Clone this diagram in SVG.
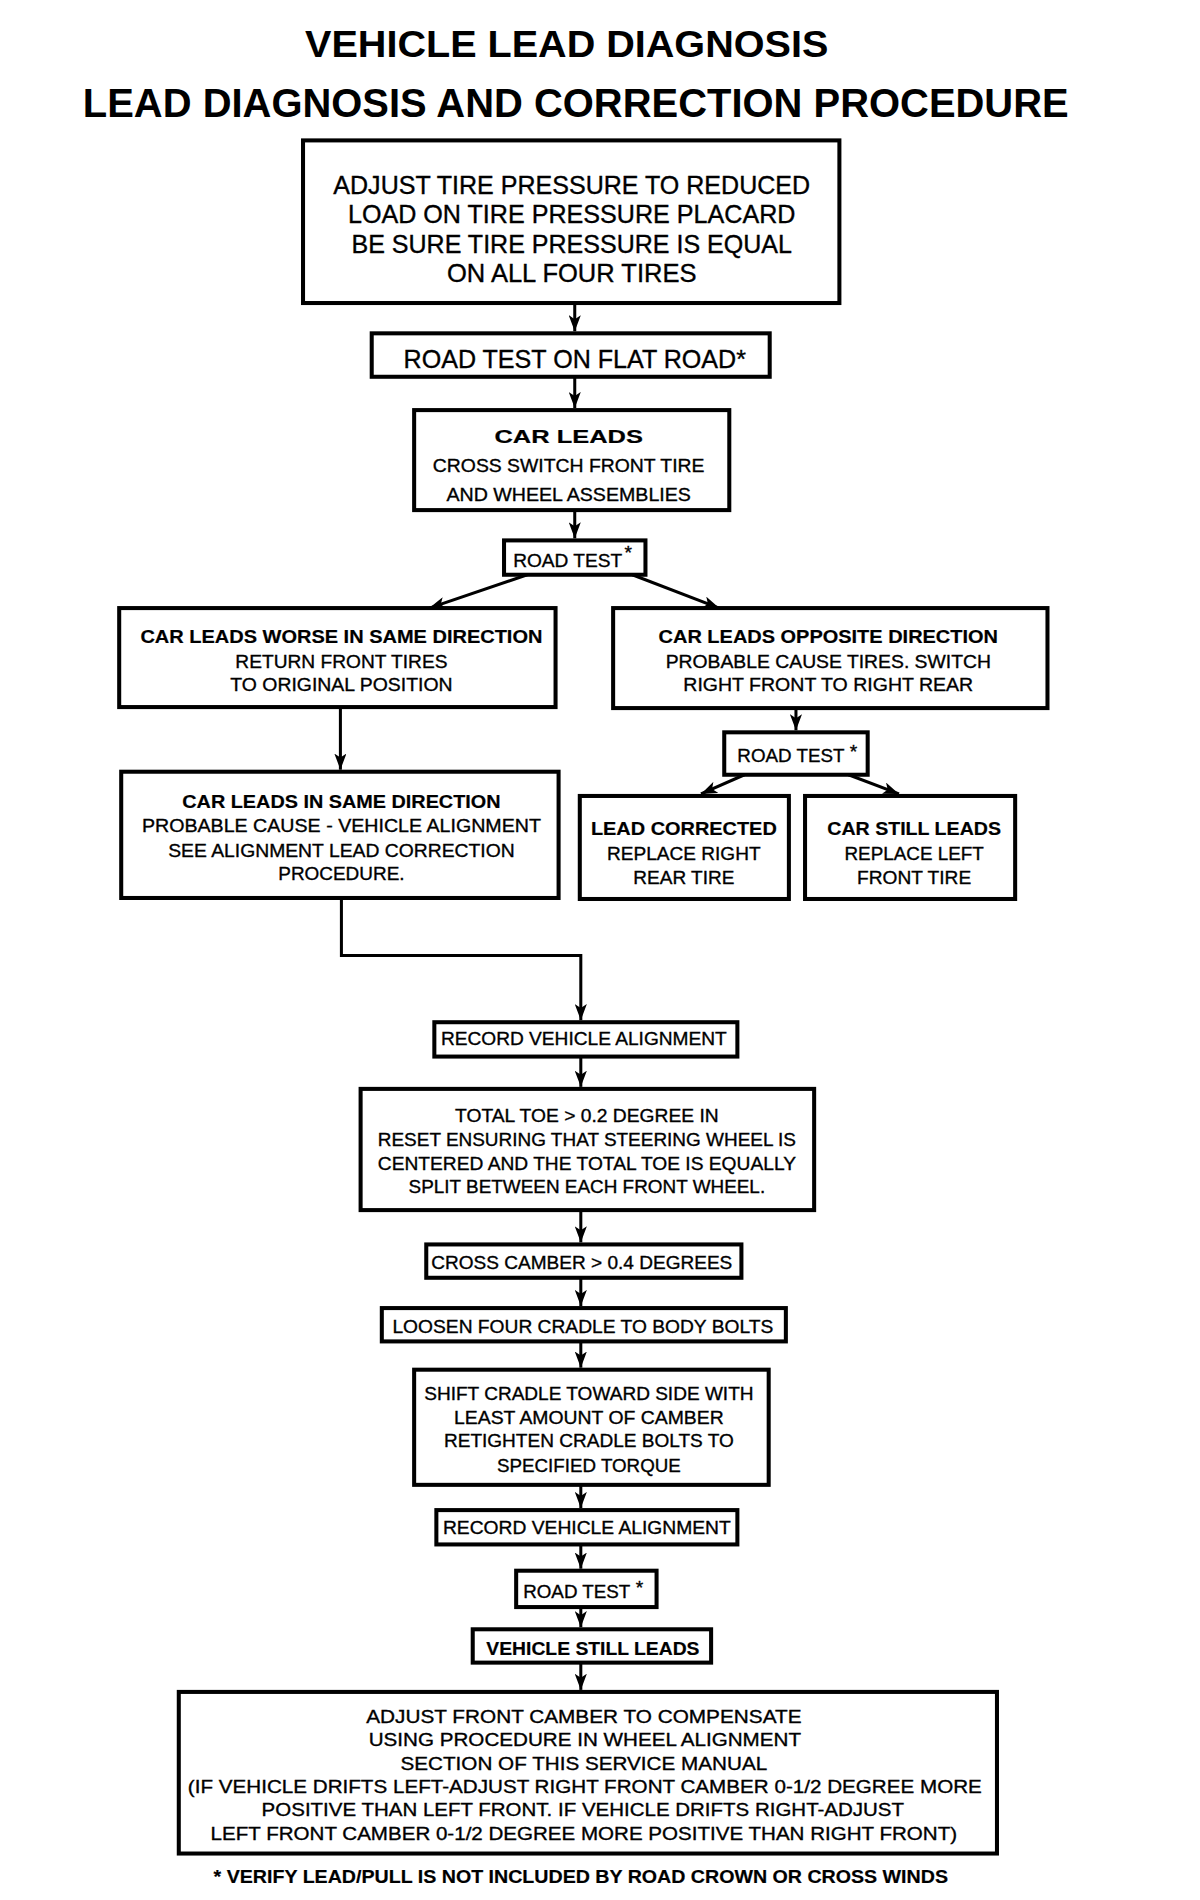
<svg xmlns="http://www.w3.org/2000/svg" width="1200" height="1900" viewBox="0 0 1200 1900">
<defs>
<style>
.box{fill:#fff;stroke:#000;stroke-width:4}
.t{font-family:"Liberation Sans",Arial,sans-serif;font-size:19px;fill:#000;text-anchor:middle;stroke:#000;stroke-width:0.35}
.b{font-weight:bold;stroke-width:0.2}
.big{font-size:25px}
.ttl{font-family:"Liberation Sans",Arial,sans-serif;font-weight:bold;fill:#000;text-anchor:middle}
.c{fill:none;stroke:#000;stroke-width:3}
</style>
<marker id="ah" viewBox="0 0 16 12" refX="16" refY="6" markerWidth="16" markerHeight="12" markerUnits="userSpaceOnUse" orient="auto">
<path d="M0,0 L16,6 L0,12 L4,6 z" fill="#000"/>
</marker>
</defs>
<rect width="1200" height="1900" fill="#fff"/>
<g id="diagram" transform="scale(1.0101)">
<text class="ttl" x="561" y="56" font-size="37" textLength="518" lengthAdjust="spacingAndGlyphs">VEHICLE LEAD DIAGNOSIS</text>
<text class="ttl" x="570" y="116" font-size="40" textLength="976" lengthAdjust="spacingAndGlyphs">LEAD DIAGNOSIS AND CORRECTION PROCEDURE</text>

<g id="connectors">
<line class="c" x1="569" y1="300" x2="569" y2="328" marker-end="url(#ah)"/>
<line class="c" x1="569" y1="373" x2="569" y2="404" marker-end="url(#ah)"/>
<line class="c" x1="569" y1="505" x2="569" y2="533" marker-end="url(#ah)"/>
<line class="c" x1="522" y1="569" x2="425" y2="602" marker-end="url(#ah)" stroke-width="4"/>
<line class="c" x1="626" y1="569" x2="712" y2="602" marker-end="url(#ah)" stroke-width="4"/>
<line class="c" x1="337" y1="700" x2="337" y2="762" marker-end="url(#ah)"/>
<line class="c" x1="788" y1="701" x2="788" y2="723" marker-end="url(#ah)"/>
<line class="c" x1="737" y1="767" x2="694" y2="786" marker-end="url(#ah)" stroke-width="4"/>
<line class="c" x1="840" y1="767" x2="890" y2="786" marker-end="url(#ah)" stroke-width="4"/>
<polyline class="c" points="338,889 338,946 575,946 575,1010" marker-end="url(#ah)"/>
<line class="c" x1="575" y1="1046" x2="575" y2="1076" marker-end="url(#ah)"/>
<line class="c" x1="575" y1="1198" x2="575" y2="1230" marker-end="url(#ah)"/>
<line class="c" x1="575" y1="1265" x2="575" y2="1293" marker-end="url(#ah)"/>
<line class="c" x1="575" y1="1328" x2="575" y2="1354" marker-end="url(#ah)"/>
<line class="c" x1="575" y1="1470" x2="575" y2="1493" marker-end="url(#ah)"/>
<line class="c" x1="575" y1="1529" x2="575" y2="1553" marker-end="url(#ah)"/>
<line class="c" x1="575" y1="1591" x2="575" y2="1611" marker-end="url(#ah)"/>
<line class="c" x1="575" y1="1646" x2="575" y2="1673" marker-end="url(#ah)"/>
</g>

<g id="n1">
<rect class="box" x="300" y="139" width="531" height="161"/>
<text class="t big" x="566" y="192" textLength="472" lengthAdjust="spacingAndGlyphs">ADJUST TIRE PRESSURE TO REDUCED</text>
<text class="t big" x="566" y="221" textLength="443" lengthAdjust="spacingAndGlyphs">LOAD ON TIRE PRESSURE PLACARD</text>
<text class="t big" x="566" y="250" textLength="436" lengthAdjust="spacingAndGlyphs">BE SURE TIRE PRESSURE IS EQUAL</text>
<text class="t big" x="566" y="279" textLength="247" lengthAdjust="spacingAndGlyphs">ON ALL FOUR TIRES</text>
</g>
<g id="n2">
<rect class="box" x="368" y="330" width="394" height="43"/>
<text class="t big" x="569" y="364" textLength="339" lengthAdjust="spacingAndGlyphs">ROAD TEST ON FLAT ROAD*</text>
</g>
<g id="n3">
<rect class="box" x="410" y="406" width="312" height="99"/>
<text class="t b" x="563" y="439" font-size="23" textLength="147" lengthAdjust="spacingAndGlyphs">CAR LEADS</text>
<text class="t" x="563" y="467" textLength="269" lengthAdjust="spacingAndGlyphs">CROSS SWITCH FRONT TIRE</text>
<text class="t" x="563" y="496" textLength="242" lengthAdjust="spacingAndGlyphs">AND WHEEL ASSEMBLIES</text>
</g>
<g id="n4">
<rect class="box" x="499" y="535" width="140" height="34"/>
<text class="t" x="562" y="561" textLength="108" lengthAdjust="spacingAndGlyphs">ROAD TEST</text>
<text class="t" x="622" y="553" font-size="13">*</text>
</g>
<g id="n5">
<rect class="box" x="118" y="602" width="432" height="98"/>
<text class="t b" x="338" y="637" textLength="398" lengthAdjust="spacingAndGlyphs">CAR LEADS WORSE IN SAME DIRECTION</text>
<text class="t" x="338" y="661" textLength="210" lengthAdjust="spacingAndGlyphs">RETURN FRONT TIRES</text>
<text class="t" x="338" y="684" textLength="220" lengthAdjust="spacingAndGlyphs">TO ORIGINAL POSITION</text>
</g>
<g id="n6">
<rect class="box" x="607" y="602" width="430" height="99"/>
<text class="t b" x="820" y="637" textLength="336" lengthAdjust="spacingAndGlyphs">CAR LEADS OPPOSITE DIRECTION</text>
<text class="t" x="820" y="661" textLength="322" lengthAdjust="spacingAndGlyphs">PROBABLE CAUSE TIRES. SWITCH</text>
<text class="t" x="820" y="684" textLength="287" lengthAdjust="spacingAndGlyphs">RIGHT FRONT TO RIGHT REAR</text>
</g>
<g id="n7">
<rect class="box" x="717" y="725" width="142" height="42"/>
<text class="t" x="783" y="754" textLength="106" lengthAdjust="spacingAndGlyphs">ROAD TEST</text>
<text class="t" x="845" y="750" font-size="14">*</text>
</g>
<g id="n8">
<rect class="box" x="574" y="788" width="207" height="102"/>
<text class="t b" x="677" y="827" textLength="184" lengthAdjust="spacingAndGlyphs">LEAD CORRECTED</text>
<text class="t" x="677" y="851" textLength="152" lengthAdjust="spacingAndGlyphs">REPLACE RIGHT</text>
<text class="t" x="677" y="875" textLength="100" lengthAdjust="spacingAndGlyphs">REAR TIRE</text>
</g>
<g id="n9">
<rect class="box" x="797" y="788" width="208" height="102"/>
<text class="t b" x="905" y="827" textLength="172" lengthAdjust="spacingAndGlyphs">CAR STILL LEADS</text>
<text class="t" x="905" y="851" textLength="138" lengthAdjust="spacingAndGlyphs">REPLACE LEFT</text>
<text class="t" x="905" y="875" textLength="113" lengthAdjust="spacingAndGlyphs">FRONT TIRE</text>
</g>
<g id="n10">
<rect class="box" x="120" y="764" width="433" height="125"/>
<text class="t b" x="338" y="800" textLength="315" lengthAdjust="spacingAndGlyphs">CAR LEADS IN SAME DIRECTION</text>
<text class="t" x="338" y="824" textLength="395" lengthAdjust="spacingAndGlyphs">PROBABLE CAUSE - VEHICLE ALIGNMENT</text>
<text class="t" x="338" y="848" textLength="343" lengthAdjust="spacingAndGlyphs">SEE ALIGNMENT LEAD CORRECTION</text>
<text class="t" x="338" y="871" textLength="125" lengthAdjust="spacingAndGlyphs">PROCEDURE.</text>
</g>
<g id="n11">
<rect class="box" x="430" y="1012" width="300" height="34"/>
<text class="t" x="578" y="1035" textLength="283" lengthAdjust="spacingAndGlyphs">RECORD VEHICLE ALIGNMENT</text>
</g>
<g id="n12">
<rect class="box" x="357" y="1078" width="449" height="120"/>
<text class="t" x="581" y="1111" textLength="261" lengthAdjust="spacingAndGlyphs">TOTAL TOE &gt; 0.2 DEGREE IN</text>
<text class="t" x="581" y="1135" textLength="414" lengthAdjust="spacingAndGlyphs">RESET ENSURING THAT STEERING WHEEL IS</text>
<text class="t" x="581" y="1158" textLength="414" lengthAdjust="spacingAndGlyphs">CENTERED AND THE TOTAL TOE IS EQUALLY</text>
<text class="t" x="581" y="1181" textLength="353" lengthAdjust="spacingAndGlyphs">SPLIT BETWEEN EACH FRONT WHEEL.</text>
</g>
<g id="n13">
<rect class="box" x="422" y="1232" width="312" height="33"/>
<text class="t" x="576" y="1256" textLength="298" lengthAdjust="spacingAndGlyphs">CROSS CAMBER &gt; 0.4 DEGREES</text>
</g>
<g id="n14">
<rect class="box" x="378" y="1295" width="400" height="33"/>
<text class="t" x="577" y="1320" textLength="377" lengthAdjust="spacingAndGlyphs">LOOSEN FOUR CRADLE TO BODY BOLTS</text>
</g>
<g id="n15">
<rect class="box" x="410" y="1356" width="351" height="114"/>
<text class="t" x="583" y="1386" textLength="326" lengthAdjust="spacingAndGlyphs">SHIFT CRADLE TOWARD SIDE WITH</text>
<text class="t" x="583" y="1410" textLength="267" lengthAdjust="spacingAndGlyphs">LEAST AMOUNT OF CAMBER</text>
<text class="t" x="583" y="1433" textLength="287" lengthAdjust="spacingAndGlyphs">RETIGHTEN CRADLE BOLTS TO</text>
<text class="t" x="583" y="1457" textLength="182" lengthAdjust="spacingAndGlyphs">SPECIFIED TORQUE</text>
</g>
<g id="n16">
<rect class="box" x="432" y="1495" width="298" height="34"/>
<text class="t" x="581" y="1519" textLength="285" lengthAdjust="spacingAndGlyphs">RECORD VEHICLE ALIGNMENT</text>
</g>
<g id="n17">
<rect class="box" x="511" y="1555" width="139" height="36"/>
<text class="t" x="571" y="1582" textLength="106" lengthAdjust="spacingAndGlyphs">ROAD TEST</text>
<text class="t" x="633" y="1578" font-size="14">*</text>
</g>
<g id="n18">
<rect class="box" x="468" y="1613" width="236" height="33"/>
<text class="t b" x="587" y="1638" textLength="211" lengthAdjust="spacingAndGlyphs">VEHICLE STILL LEADS</text>
</g>
<g id="n19">
<rect class="box" x="177" y="1675" width="810" height="160"/>
<text class="t" x="578" y="1706" textLength="431" lengthAdjust="spacingAndGlyphs">ADJUST FRONT CAMBER TO COMPENSATE</text>
<text class="t" x="579" y="1729" textLength="428" lengthAdjust="spacingAndGlyphs">USING PROCEDURE IN WHEEL ALIGNMENT</text>
<text class="t" x="578" y="1752" textLength="363" lengthAdjust="spacingAndGlyphs">SECTION OF THIS SERVICE MANUAL</text>
<text class="t" x="579" y="1775" textLength="786" lengthAdjust="spacingAndGlyphs">(IF VEHICLE DRIFTS LEFT-ADJUST RIGHT FRONT CAMBER 0-1/2 DEGREE MORE</text>
<text class="t" x="577" y="1798" textLength="636" lengthAdjust="spacingAndGlyphs">POSITIVE THAN LEFT FRONT. IF VEHICLE DRIFTS RIGHT-ADJUST</text>
<text class="t" x="578" y="1822" textLength="739" lengthAdjust="spacingAndGlyphs">LEFT FRONT CAMBER 0-1/2 DEGREE MORE POSITIVE THAN RIGHT FRONT)</text>
</g>
<text class="t b" x="575" y="1864" font-size="18" textLength="727" lengthAdjust="spacingAndGlyphs">* VERIFY LEAD/PULL IS NOT INCLUDED BY ROAD CROWN OR CROSS WINDS</text>
</g>
</svg>
